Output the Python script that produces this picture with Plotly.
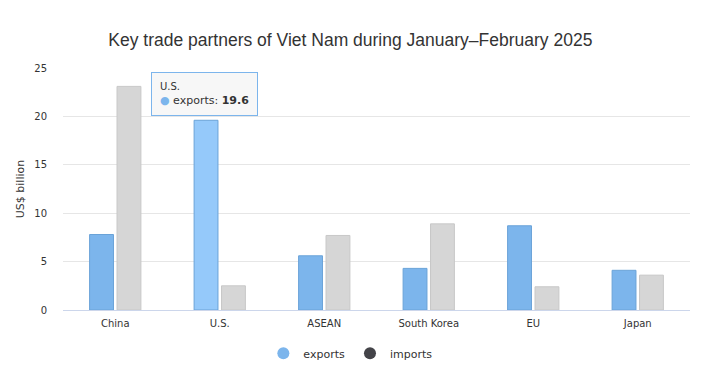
import plotly.graph_objects as go

categories = ["China", "U.S.", "ASEAN", "South Korea", "EU", "Japan"]
exports = [7.8, 19.6, 5.6, 4.3, 8.7, 4.1]
imports = [23.1, 2.5, 7.7, 8.9, 2.4, 3.6]
y_ticks = [0, 5, 10, 15, 20, 25]

export_color = "#7cb5ec"
export_hover = "#95c9fa"
import_color = "#d6d6d6"

hl = categories.index("U.S.")
exp_colors = [export_hover if i == hl else export_color for i in range(len(categories))]

fig = go.Figure()
fig.add_trace(go.Bar(x=categories, y=exports, name="exports", marker=dict(color=exp_colors, line=dict(color="#6aa3d8", width=1)), showlegend=False))
fig.add_trace(go.Bar(x=categories, y=imports, name="imports", marker=dict(color=import_color, line=dict(color="#c8c8c8", width=1)), showlegend=False))
# legend entries (circle symbols)
fig.add_trace(go.Scatter(x=[None], y=[None], mode="markers", name="exports", marker=dict(symbol="circle", size=10, color=export_color)))
fig.add_trace(go.Scatter(x=[None], y=[None], mode="markers", name="imports", marker=dict(symbol="circle", size=10, color="#434348")))

fig.add_annotation(
    x=categories[hl], y=exports[hl], xref="x", yref="y", xshift=-15, yshift=4,
    text="<span style='font-size:10px'>U.S.</span><br><span style='color:#7cb5ec'>●</span> exports: <b>19.6</b>",
    showarrow=False, align="left", xanchor="center", yanchor="bottom",
    bgcolor="rgba(247,247,247,0.95)", bordercolor="#7cb5ec", borderwidth=1, borderpad=8,
    font=dict(family="DejaVu Sans", size=11, color="#333333"),
)

fig.update_layout(
    width=715, height=373,
    margin=dict(l=63, r=25, t=68, b=63, autoexpand=False),
    paper_bgcolor="white", plot_bgcolor="white",
    title=dict(text="Key trade partners of Viet Nam during January–February 2025", x=0.49, xanchor="center", y=0.893, yanchor="middle",
               font=dict(family="Liberation Sans, Arial, sans-serif", size=17.5, color="#333333")),
    barmode="group", bargap=0.475, bargroupgap=0.13,
    font=dict(family="DejaVu Sans", size=10, color="#666666"),
    xaxis=dict(showgrid=False, showline=True, linecolor="#ccd6eb", ticks="", ticklabelstandoff=4,
               tickfont=dict(size=10, color="#333333"), automargin=False),
    yaxis=dict(range=[0, 25], tickvals=y_ticks, showgrid=True, gridcolor="#e6e6e6", zeroline=False, automargin=False,
               ticklabelstandoff=15,
               title=dict(text="US$ billion", font=dict(size=11, color="#333333"), standoff=7),
               tickfont=dict(size=10, color="#333333")),
    legend=dict(orientation="h", xref="container", x=0.49, xanchor="center", yref="container", y=0.053, yanchor="middle",
                font=dict(size=11, color="#333333"), itemsizing="constant", itemwidth=30),
    showlegend=True,
)

fig.write_html("out.html", config={"displayModeBar": False}, post_script="document.body.style.margin='0';")
